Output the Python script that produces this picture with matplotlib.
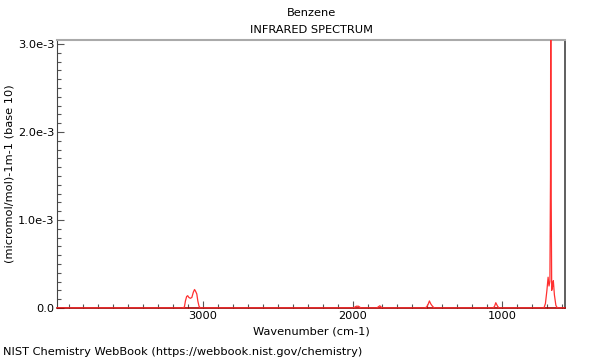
import matplotlib
matplotlib.use("Agg")
import matplotlib.pyplot as plt
from matplotlib.ticker import MultipleLocator, FixedLocator

# Spectrum (wavenumber cm-1, absorbance)
wavenumber = [3977, 3140, 3125, 3118, 3110, 3103, 3095, 3085, 3075, 3065, 3057, 3050,
              3042, 3035, 3027, 3018, 2000, 1990, 1975, 1960, 1948, 1940, 1840, 1830,
              1818, 1808, 1800, 1520, 1505, 1495, 1486, 1478, 1470, 1460, 1450, 1060,
              1050, 1042, 1036, 1030, 1020, 720, 710, 700, 692, 686, 680, 676, 674,
              672, 668, 662, 657, 650, 640, 630, 580]
absorbance = [0, 0, 0.00001, 0.00008, 0.00013, 0.00014, 0.00012, 0.00011, 0.00012,
              0.00018, 0.00021, 0.00019, 0.00016, 0.00008, 0.00002, 0, 0, 0.000005,
              0.00002, 0.00002, 0.000005, 0, 0, 0.00001, 0.000025, 0.00001, 0, 0,
              0.00001, 0.00004, 0.00008, 0.00005, 0.00003, 0.00001, 0, 0, 0.00002,
              0.00006, 0.00004, 0.00002, 0, 0, 0.00005, 0.0002, 0.00035, 0.00025,
              0.0003, 0.0015, 0.0045, 0.0015, 0.0002, 0.00025, 0.00031, 0.00015,
              0.00003, 0, 0]

x_ticks = [3000, 2000, 1000]
x_labels = ["3000", "2000", "1000"]
y_ticks = [0.0, 0.001, 0.002, 0.003]
y_labels = ["0.0", "1.0e-3", "2.0e-3", "3.0e-3"]

FS = 8.2

fig = plt.figure(figsize=(6, 3.6), dpi=100)
ax = fig.add_axes([57/600, 1 - 308/360, (565-57)/600, (308-40)/360])

ax.plot(wavenumber, absorbance, color="#ff3030", lw=0.9, zorder=5, clip_on=True)
ax.set_xlim(3977, 579)
ax.set_ylim(0, 0.003045)

ax.xaxis.set_major_locator(FixedLocator(x_ticks))
ax.set_xticklabels(x_labels)
ax.xaxis.set_minor_locator(MultipleLocator(100))
ax.yaxis.set_major_locator(FixedLocator(y_ticks))
ax.set_yticklabels(y_labels)
ax.yaxis.set_minor_locator(MultipleLocator(0.0001))

ax.tick_params(which="both", direction="in", color="#555555", labelsize=FS, width=0.8,
               top=False, right=False, pad=2)
ax.tick_params(which="major", length=5)
ax.tick_params(which="minor", length=3)

ax.spines["top"].set_color("#aaaaaa")
ax.spines["top"].set_linewidth(1.5)
ax.spines["right"].set_color("#444444")
ax.spines["right"].set_linewidth(1.2)
ax.spines["left"].set_color("#444444")
ax.spines["left"].set_linewidth(0.8)
ax.spines["bottom"].set_color("#aa0000")
ax.spines["bottom"].set_linewidth(1.2)

ax.set_xlabel("Wavenumber (cm-1)", fontsize=FS, labelpad=4)
ax.set_ylabel("(micromol/mol)-1m-1 (base 10)", fontsize=FS, va="center")
ax.yaxis.set_label_coords((10 - 57) / 508, 0.5)

fig.text(311/600, 1 - 13/360, "Benzene", ha="center", va="center", fontsize=FS)
fig.text(311/600, 1 - 30/360, "INFRARED SPECTRUM", ha="center", va="center", fontsize=FS)
fig.text(3/600, 1 - 352/360, "NIST Chemistry WebBook (https://webbook.nist.gov/chemistry)",
         ha="left", va="center", fontsize=FS)

fig.savefig("out.png", dpi=100)
